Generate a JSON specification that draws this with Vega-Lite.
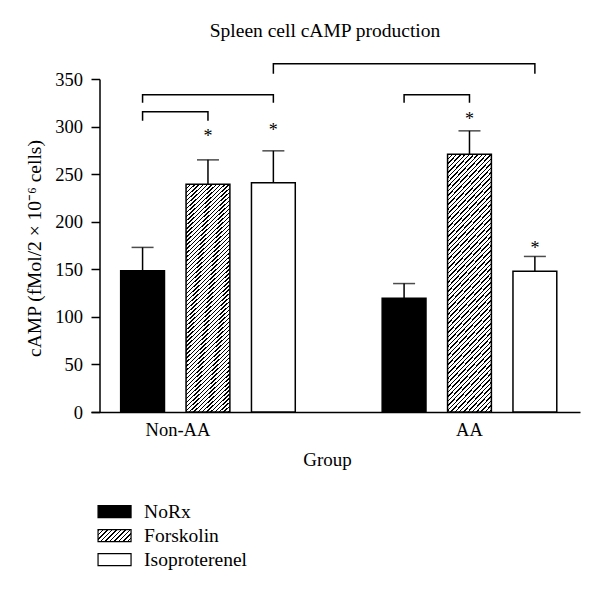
{
  "$schema": "https://vega.github.io/schema/vega-lite/v6.json",
  "width": 489,
  "height": 333,
  "autosize": "none",
  "padding": {"left": 91, "top": 79, "right": 20, "bottom": 180},
  "background": "white",
  "title": {"text": "Spleen cell cAMP production", "font": "Liberation Serif", "fontSize": 19.5, "fontWeight": "normal", "color": "black", "anchor": "middle", "frame": "group", "dx": -10.5, "baseline": "alphabetic", "offset": 4},
  "config": {"view": {"stroke": null}, "axis": {"grid": false}},
  "datasets": {
    "bars": [
      {"group": "Non-AA", "treatment": "NoRx", "mean": 148.5, "upper": 173, "star": null},
      {"group": "Non-AA", "treatment": "Forskolin", "mean": 239.5, "upper": 265, "star": 292.5},
      {"group": "Non-AA", "treatment": "Isoproterenel", "mean": 241, "upper": 274.5, "star": 298},
      {"group": "AA", "treatment": "NoRx", "mean": 119.5, "upper": 135, "star": null},
      {"group": "AA", "treatment": "Forskolin", "mean": 271, "upper": 295.5, "star": 310},
      {"group": "AA", "treatment": "Isoproterenel", "mean": 148, "upper": 163.5, "star": 174}
    ],
    "brackets": [
      {"bracket": "b1", "pt": 1, "group": "Non-AA", "treatment": "NoRx", "y": 306},
      {"bracket": "b1", "pt": 2, "group": "Non-AA", "treatment": "NoRx", "y": 315.5},
      {"bracket": "b1", "pt": 3, "group": "Non-AA", "treatment": "Forskolin", "y": 315.5},
      {"bracket": "b1", "pt": 4, "group": "Non-AA", "treatment": "Forskolin", "y": 306},
      {"bracket": "b2", "pt": 1, "group": "Non-AA", "treatment": "NoRx", "y": 325},
      {"bracket": "b2", "pt": 2, "group": "Non-AA", "treatment": "NoRx", "y": 333.5},
      {"bracket": "b2", "pt": 3, "group": "Non-AA", "treatment": "Isoproterenel", "y": 333.5},
      {"bracket": "b2", "pt": 4, "group": "Non-AA", "treatment": "Isoproterenel", "y": 325},
      {"bracket": "b3", "pt": 1, "group": "Non-AA", "treatment": "Isoproterenel", "y": 355.5},
      {"bracket": "b3", "pt": 2, "group": "Non-AA", "treatment": "Isoproterenel", "y": 366},
      {"bracket": "b3", "pt": 3, "group": "AA", "treatment": "Isoproterenel", "y": 366},
      {"bracket": "b3", "pt": 4, "group": "AA", "treatment": "Isoproterenel", "y": 355.5},
      {"bracket": "b4", "pt": 1, "group": "AA", "treatment": "NoRx", "y": 325},
      {"bracket": "b4", "pt": 2, "group": "AA", "treatment": "NoRx", "y": 333.5},
      {"bracket": "b4", "pt": 3, "group": "AA", "treatment": "Forskolin", "y": 333.5},
      {"bracket": "b4", "pt": 4, "group": "AA", "treatment": "Forskolin", "y": 325}
    ]
  },
  "encoding": {
    "x": {
      "field": "group", "type": "nominal", "sort": ["Non-AA", "AA"],
      "scale": {"paddingInner": 0.3323, "paddingOuter": 0.1011, "align": 0.561},
      "axis": {
        "title": "Group", "ticks": false, "tickSize": 0, "domainColor": "black", "domainWidth": 1.5,
        "labelFont": "Liberation Serif", "labelFontSize": 18.5, "labelColor": "black", "labelPadding": 8, "labelAngle": 0,
        "labelOffset": {"condition": {"test": "datum.value === 'Non-AA'", "value": -30}, "value": 0},
        "titleFont": "Liberation Serif", "titleFontSize": 19, "titleFontWeight": "normal", "titleColor": "black",
        "titleX": 236, "titleY": 53, "titleAlign": "center", "titleBaseline": "alphabetic"
      }
    },
    "xOffset": {
      "field": "treatment", "type": "nominal", "sort": ["NoRx", "Forskolin", "Isoproterenel"],
      "scale": {"paddingInner": 0.33, "paddingOuter": 0}
    }
  },
  "layer": [
    {
      "data": {"name": "bars"},
      "mark": {"type": "bar", "stroke": "black", "strokeWidth": 1.5},
      "encoding": {
        "y": {
          "field": "mean", "type": "quantitative",
          "scale": {"domain": [0, 350], "nice": false},
          "axis": {
            "title": "cAMP (fMol/2 × 10⁻⁶ cells)", "values": [0, 50, 100, 150, 200, 250, 300, 350],
            "offset": -8.5, "domainColor": "black", "domainWidth": 1.5, "tickColor": "black", "tickWidth": 1.5, "tickSize": 8.5,
            "labelFont": "Liberation Serif", "labelFontSize": 18.5, "labelColor": "black", "labelPadding": 8.5,
            "titleFont": "Liberation Serif", "titleFontSize": 19.5, "titleFontWeight": "normal", "titleColor": "black",
            "titleX": -59, "titleY": 169, "titleAngle": -90, "titleAlign": "center", "titleBaseline": "alphabetic"
          }
        },
        "fill": {
          "condition": {"test": "datum.treatment === 'Forskolin'", "value": {"gradient": "linear", "x1": 0, "y1": 0, "x2": 0.2071, "y2": 1.1436, "stops": [
{"offset":0,"color":"#000"},{"offset":0.005,"color":"#000"},{"offset":0.005,"color":"#fff"},{"offset":0.015,"color":"#fff"},
{"offset":0.015,"color":"#000"},{"offset":0.02,"color":"#000"},{"offset":0.02,"color":"#fff"},{"offset":0.03,"color":"#fff"},
{"offset":0.03,"color":"#000"},{"offset":0.035,"color":"#000"},{"offset":0.035,"color":"#fff"},{"offset":0.045,"color":"#fff"},
{"offset":0.045,"color":"#000"},{"offset":0.05,"color":"#000"},{"offset":0.05,"color":"#fff"},{"offset":0.06,"color":"#fff"},
{"offset":0.06,"color":"#000"},{"offset":0.065,"color":"#000"},{"offset":0.065,"color":"#fff"},{"offset":0.075,"color":"#fff"},
{"offset":0.075,"color":"#000"},{"offset":0.08,"color":"#000"},{"offset":0.08,"color":"#fff"},{"offset":0.09,"color":"#fff"},
{"offset":0.09,"color":"#000"},{"offset":0.095,"color":"#000"},{"offset":0.095,"color":"#fff"},{"offset":0.105,"color":"#fff"},
{"offset":0.105,"color":"#000"},{"offset":0.11,"color":"#000"},{"offset":0.11,"color":"#fff"},{"offset":0.12,"color":"#fff"},
{"offset":0.12,"color":"#000"},{"offset":0.125,"color":"#000"},{"offset":0.125,"color":"#fff"},{"offset":0.135,"color":"#fff"},
{"offset":0.135,"color":"#000"},{"offset":0.14,"color":"#000"},{"offset":0.14,"color":"#fff"},{"offset":0.15,"color":"#fff"},
{"offset":0.15,"color":"#000"},{"offset":0.155,"color":"#000"},{"offset":0.155,"color":"#fff"},{"offset":0.165,"color":"#fff"},
{"offset":0.165,"color":"#000"},{"offset":0.17,"color":"#000"},{"offset":0.17,"color":"#fff"},{"offset":0.18,"color":"#fff"},
{"offset":0.18,"color":"#000"},{"offset":0.185,"color":"#000"},{"offset":0.185,"color":"#fff"},{"offset":0.195,"color":"#fff"},
{"offset":0.195,"color":"#000"},{"offset":0.2,"color":"#000"},{"offset":0.2,"color":"#fff"},{"offset":0.21,"color":"#fff"},
{"offset":0.21,"color":"#000"},{"offset":0.215,"color":"#000"},{"offset":0.215,"color":"#fff"},{"offset":0.225,"color":"#fff"},
{"offset":0.225,"color":"#000"},{"offset":0.23,"color":"#000"},{"offset":0.23,"color":"#fff"},{"offset":0.24,"color":"#fff"},
{"offset":0.24,"color":"#000"},{"offset":0.245,"color":"#000"},{"offset":0.245,"color":"#fff"},{"offset":0.255,"color":"#fff"},
{"offset":0.255,"color":"#000"},{"offset":0.26,"color":"#000"},{"offset":0.26,"color":"#fff"},{"offset":0.27,"color":"#fff"},
{"offset":0.27,"color":"#000"},{"offset":0.275,"color":"#000"},{"offset":0.275,"color":"#fff"},{"offset":0.285,"color":"#fff"},
{"offset":0.285,"color":"#000"},{"offset":0.29,"color":"#000"},{"offset":0.29,"color":"#fff"},{"offset":0.3,"color":"#fff"},
{"offset":0.3,"color":"#000"},{"offset":0.305,"color":"#000"},{"offset":0.305,"color":"#fff"},{"offset":0.315,"color":"#fff"},
{"offset":0.315,"color":"#000"},{"offset":0.32,"color":"#000"},{"offset":0.32,"color":"#fff"},{"offset":0.33,"color":"#fff"},
{"offset":0.33,"color":"#000"},{"offset":0.335,"color":"#000"},{"offset":0.335,"color":"#fff"},{"offset":0.345,"color":"#fff"},
{"offset":0.345,"color":"#000"},{"offset":0.35,"color":"#000"},{"offset":0.35,"color":"#fff"},{"offset":0.36,"color":"#fff"},
{"offset":0.36,"color":"#000"},{"offset":0.365,"color":"#000"},{"offset":0.365,"color":"#fff"},{"offset":0.375,"color":"#fff"},
{"offset":0.375,"color":"#000"},{"offset":0.38,"color":"#000"},{"offset":0.38,"color":"#fff"},{"offset":0.39,"color":"#fff"},
{"offset":0.39,"color":"#000"},{"offset":0.395,"color":"#000"},{"offset":0.395,"color":"#fff"},{"offset":0.405,"color":"#fff"},
{"offset":0.405,"color":"#000"},{"offset":0.41,"color":"#000"},{"offset":0.41,"color":"#fff"},{"offset":0.42,"color":"#fff"},
{"offset":0.42,"color":"#000"},{"offset":0.425,"color":"#000"},{"offset":0.425,"color":"#fff"},{"offset":0.435,"color":"#fff"},
{"offset":0.435,"color":"#000"},{"offset":0.44,"color":"#000"},{"offset":0.44,"color":"#fff"},{"offset":0.45,"color":"#fff"},
{"offset":0.45,"color":"#000"},{"offset":0.455,"color":"#000"},{"offset":0.455,"color":"#fff"},{"offset":0.465,"color":"#fff"},
{"offset":0.465,"color":"#000"},{"offset":0.47,"color":"#000"},{"offset":0.47,"color":"#fff"},{"offset":0.48,"color":"#fff"},
{"offset":0.48,"color":"#000"},{"offset":0.485,"color":"#000"},{"offset":0.485,"color":"#fff"},{"offset":0.495,"color":"#fff"},
{"offset":0.495,"color":"#000"},{"offset":0.5,"color":"#000"},{"offset":0.5,"color":"#fff"},{"offset":0.51,"color":"#fff"},
{"offset":0.51,"color":"#000"},{"offset":0.515,"color":"#000"},{"offset":0.515,"color":"#fff"},{"offset":0.525,"color":"#fff"},
{"offset":0.525,"color":"#000"},{"offset":0.53,"color":"#000"},{"offset":0.53,"color":"#fff"},{"offset":0.54,"color":"#fff"},
{"offset":0.54,"color":"#000"},{"offset":0.545,"color":"#000"},{"offset":0.545,"color":"#fff"},{"offset":0.555,"color":"#fff"},
{"offset":0.555,"color":"#000"},{"offset":0.56,"color":"#000"},{"offset":0.56,"color":"#fff"},{"offset":0.57,"color":"#fff"},
{"offset":0.57,"color":"#000"},{"offset":0.575,"color":"#000"},{"offset":0.575,"color":"#fff"},{"offset":0.585,"color":"#fff"},
{"offset":0.585,"color":"#000"},{"offset":0.59,"color":"#000"},{"offset":0.59,"color":"#fff"},{"offset":0.6,"color":"#fff"},
{"offset":0.6,"color":"#000"},{"offset":0.605,"color":"#000"},{"offset":0.605,"color":"#fff"},{"offset":0.615,"color":"#fff"},
{"offset":0.615,"color":"#000"},{"offset":0.62,"color":"#000"},{"offset":0.62,"color":"#fff"},{"offset":0.63,"color":"#fff"},
{"offset":0.63,"color":"#000"},{"offset":0.635,"color":"#000"},{"offset":0.635,"color":"#fff"},{"offset":0.645,"color":"#fff"},
{"offset":0.645,"color":"#000"},{"offset":0.65,"color":"#000"},{"offset":0.65,"color":"#fff"},{"offset":0.66,"color":"#fff"},
{"offset":0.66,"color":"#000"},{"offset":0.665,"color":"#000"},{"offset":0.665,"color":"#fff"},{"offset":0.675,"color":"#fff"},
{"offset":0.675,"color":"#000"},{"offset":0.68,"color":"#000"},{"offset":0.68,"color":"#fff"},{"offset":0.69,"color":"#fff"},
{"offset":0.69,"color":"#000"},{"offset":0.695,"color":"#000"},{"offset":0.695,"color":"#fff"},{"offset":0.705,"color":"#fff"},
{"offset":0.705,"color":"#000"},{"offset":0.71,"color":"#000"},{"offset":0.71,"color":"#fff"},{"offset":0.72,"color":"#fff"},
{"offset":0.72,"color":"#000"},{"offset":0.725,"color":"#000"},{"offset":0.725,"color":"#fff"},{"offset":0.735,"color":"#fff"},
{"offset":0.735,"color":"#000"},{"offset":0.74,"color":"#000"},{"offset":0.74,"color":"#fff"},{"offset":0.75,"color":"#fff"},
{"offset":0.75,"color":"#000"},{"offset":0.755,"color":"#000"},{"offset":0.755,"color":"#fff"},{"offset":0.765,"color":"#fff"},
{"offset":0.765,"color":"#000"},{"offset":0.77,"color":"#000"},{"offset":0.77,"color":"#fff"},{"offset":0.78,"color":"#fff"},
{"offset":0.78,"color":"#000"},{"offset":0.785,"color":"#000"},{"offset":0.785,"color":"#fff"},{"offset":0.795,"color":"#fff"},
{"offset":0.795,"color":"#000"},{"offset":0.8,"color":"#000"},{"offset":0.8,"color":"#fff"},{"offset":0.81,"color":"#fff"},
{"offset":0.81,"color":"#000"},{"offset":0.815,"color":"#000"},{"offset":0.815,"color":"#fff"},{"offset":0.825,"color":"#fff"},
{"offset":0.825,"color":"#000"},{"offset":0.83,"color":"#000"},{"offset":0.83,"color":"#fff"},{"offset":0.84,"color":"#fff"},
{"offset":0.84,"color":"#000"},{"offset":0.845,"color":"#000"},{"offset":0.845,"color":"#fff"},{"offset":0.855,"color":"#fff"},
{"offset":0.855,"color":"#000"},{"offset":0.86,"color":"#000"},{"offset":0.86,"color":"#fff"},{"offset":0.87,"color":"#fff"},
{"offset":0.87,"color":"#000"},{"offset":0.875,"color":"#000"},{"offset":0.875,"color":"#fff"},{"offset":0.885,"color":"#fff"},
{"offset":0.885,"color":"#000"},{"offset":0.89,"color":"#000"},{"offset":0.89,"color":"#fff"},{"offset":0.9,"color":"#fff"},
{"offset":0.9,"color":"#000"},{"offset":0.905,"color":"#000"},{"offset":0.905,"color":"#fff"},{"offset":0.915,"color":"#fff"},
{"offset":0.915,"color":"#000"},{"offset":0.92,"color":"#000"},{"offset":0.92,"color":"#fff"},{"offset":0.93,"color":"#fff"},
{"offset":0.93,"color":"#000"},{"offset":0.935,"color":"#000"},{"offset":0.935,"color":"#fff"},{"offset":0.945,"color":"#fff"},
{"offset":0.945,"color":"#000"},{"offset":0.95,"color":"#000"},{"offset":0.95,"color":"#fff"},{"offset":0.96,"color":"#fff"},
{"offset":0.96,"color":"#000"},{"offset":0.965,"color":"#000"},{"offset":0.965,"color":"#fff"},{"offset":0.975,"color":"#fff"},
{"offset":0.975,"color":"#000"},{"offset":0.98,"color":"#000"},{"offset":0.98,"color":"#fff"},{"offset":0.99,"color":"#fff"},
{"offset":0.99,"color":"#000"},{"offset":0.995,"color":"#000"},{"offset":0.995,"color":"#fff"},{"offset":1,"color":"#fff"}
          ]}},
          "field": "treatment", "type": "nominal",
          "scale": {"domain": ["NoRx", "Forskolin", "Isoproterenel"], "range": ["black", {"expr": "{gradient:'linear',x1:0,y1:0,x2:1.2044,y2:0.438,stops:[{offset:0,color:'#000'},{offset:0.033,color:'#000'},{offset:0.033,color:'#fff'},{offset:0.1,color:'#fff'},{offset:0.1,color:'#000'},{offset:0.133,color:'#000'},{offset:0.133,color:'#fff'},{offset:0.2,color:'#fff'},{offset:0.2,color:'#000'},{offset:0.233,color:'#000'},{offset:0.233,color:'#fff'},{offset:0.3,color:'#fff'},{offset:0.3,color:'#000'},{offset:0.333,color:'#000'},{offset:0.333,color:'#fff'},{offset:0.4,color:'#fff'},{offset:0.4,color:'#000'},{offset:0.433,color:'#000'},{offset:0.433,color:'#fff'},{offset:0.5,color:'#fff'},{offset:0.5,color:'#000'},{offset:0.533,color:'#000'},{offset:0.533,color:'#fff'},{offset:0.6,color:'#fff'},{offset:0.6,color:'#000'},{offset:0.633,color:'#000'},{offset:0.633,color:'#fff'},{offset:0.7,color:'#fff'},{offset:0.7,color:'#000'},{offset:0.733,color:'#000'},{offset:0.733,color:'#fff'},{offset:0.8,color:'#fff'},{offset:0.8,color:'#000'},{offset:0.833,color:'#000'},{offset:0.833,color:'#fff'},{offset:0.9,color:'#fff'},{offset:0.9,color:'#000'},{offset:0.933,color:'#000'},{offset:0.933,color:'#fff'},{offset:1,color:'#fff'}]}"}, "white"]},
          "legend": {
            "orient": "none", "legendX": 13.8, "legendY": 422.9, "title": null, "padding": 0, "offset": 0,
            "symbolType": "M-2.75,-1H2.75V1H-2.75Z", "symbolSize": 144, "symbolStrokeColor": "black", "symbolStrokeWidth": 1.2,
            "labelFont": "Liberation Serif", "labelFontSize": 19.5, "labelColor": "black", "labelOffset": 19.8, "rowPadding": 3
          }
        }
      }
    },
    {
      "data": {"name": "bars"},
      "mark": {"type": "rule", "color": "black", "strokeWidth": 1.5},
      "encoding": {
        "y": {"field": "mean", "type": "quantitative"},
        "y2": {"field": "upper"}
      }
    },
    {
      "data": {"name": "bars"},
      "mark": {"type": "tick", "color": "black", "size": 22, "thickness": 1.5, "orient": "horizontal"},
      "encoding": {
        "y": {"field": "upper", "type": "quantitative"}
      }
    },
    {
      "data": {"name": "bars"},
      "transform": [{"filter": "datum.star != null"}],
      "mark": {"type": "text", "text": "*", "font": "Liberation Serif", "fontSize": 18, "color": "black", "baseline": "alphabetic", "dy": 8},
      "encoding": {
        "y": {"field": "star", "type": "quantitative"}
      }
    },
    {
      "data": {"name": "brackets"},
      "mark": {"type": "line", "color": "black", "strokeWidth": 1.5},
      "encoding": {
        "y": {"field": "y", "type": "quantitative"},
        "detail": {"field": "bracket"},
        "order": {"field": "pt", "type": "quantitative"}
      }
    }
  ]
}
